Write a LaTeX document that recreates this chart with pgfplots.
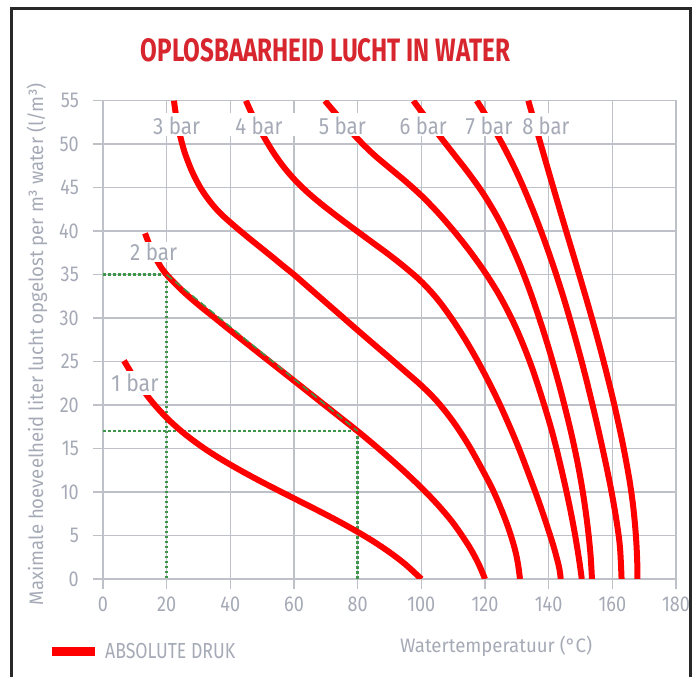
\documentclass[border=0pt]{standalone}
\usepackage{fontspec}
\setmainfont{Fira Sans}
\newfontfamily\tickfont{Fira Sans}[FakeStretch=0.84]
\usepackage{graphicx}
\usepackage{pgfplots}
\pgfplotsset{compat=1.18}
\definecolor{curvered}{RGB}{255,0,0}
\definecolor{titlered}{RGB}{215,38,46}
\definecolor{labelgray}{RGB}{165,170,182}
\definecolor{gridgray}{RGB}{190,193,200}
\definecolor{dotgreen}{RGB}{62,150,72}
\definecolor{framegray}{RGB}{40,40,40}
\newcommand{\fitw}[3]{\resizebox{#1}{\height}{\fontsize{#2}{#2}\selectfont #3}}
\newcommand{\barlbl}[1]{\fitw{47bp}{23.5bp}{#1}}
\pgfplotsset{redcurve/.style={curvered, line width=6bp, smooth, tension=0.55, forget plot}}
\begin{document}
\begin{tikzpicture}
\useasboundingbox (0,0) rectangle (697bp,677bp);
\draw[framegray, line width=3bp] (11.3bp,-2bp) -- (11.3bp,668.5bp) -- (690.7bp,668.5bp) -- (690.7bp,-2bp);
\begin{axis}[
  at={(103bp,98bp)}, anchor=south west,
  scale only axis, width=573bp, height=478.3bp,
  xmin=0, xmax=180, ymin=0, ymax=55,
  xtick={0,20,...,180}, ytick={0,5,...,55},
  grid=major, major grid style={gridgray, line width=1.6bp},
  axis line style={gridgray, line width=1.6bp},
  tick style={gridgray, line width=1.6bp},
  tick align=outside, major tick length=10bp,
  xtick pos=left, ytick pos=left,
  /pgf/number format/assume math mode=true,
  ticklabel style={font=\tickfont\fontsize{21.5bp}{23bp}\selectfont, text=labelgray},
  yticklabel style={anchor=east, inner sep=0pt, xshift=-14bp},
  xticklabel style={anchor=north, inner sep=0pt, yshift=-8bp},
  xlabel={\fitw{192bp}{19.5bp}{Watertemperatuur (°C)}},
  xlabel style={at={(axis description cs:0.686,-0.1547)}, anchor=base, text=labelgray, inner sep=0pt},
  ylabel={\fitw{522bp}{19.5bp}{Maximale hoeveelheid liter lucht opgelost per m³ water (l/m³)}},
  ylabel style={at={(axis description cs:-0.1047,0.4913)}, anchor=base, text=labelgray, inner sep=0pt},
  legend style={at={(axis description cs:-0.0977,-0.1526)}, anchor=west, draw=none, fill=none,
    inner sep=0pt, text=labelgray, nodes={inner sep=0pt}},
  legend image code/.code={\draw[#1] (0bp,0bp) -- (43bp,0bp);},
]
\addlegendimage{curvered, line width=9bp}
\addlegendentry{\hspace*{6bp}\fitw{130bp}{21.8bp}{ABSOLUTE DRUK}}

% guide lines
\addplot[dotgreen, line width=2.5bp, dash pattern=on 2.5bp off 2.5bp, forget plot] coordinates {(0,35) (20,35) (20,0)};
\addplot[dotgreen, line width=2.5bp, dash pattern=on 2.5bp off 2.5bp, forget plot] coordinates {(0,17) (80,17) (80,0)};

% 1 bar
\addplot[redcurve] coordinates {
(6.6,25.1) (8.3,24.05) (10,23.06) (15,20.56) (20,18.53) (25,16.88) (30,15.48) (35,14.25) (40,13.15) (45,12.12) (50,11.14) (55,10.2) (60,9.27) (65,8.35) (70,7.41) (75,6.44) (80,5.41) (85,4.31) (90,3.08) (95,1.68) (100,0)};
% 2 bar
\addplot[redcurve] coordinates {
(13.2,39.75) (15,38.08) (17.5,36.28) (20,35) (25,33.13) (30,31.53) (35,30.06) (40,28.58) (45,27.13) (50,25.68) (55,24.24) (60,22.8) (65,21.35) (70,19.9) (75,18.45) (80,17) (85,15.48) (90,13.9) (95,12.25) (100,10.5) (105,8.6) (110,6.43) (115,3.75) (118,1.72) (120,0)};
% 3 bar
\addplot[redcurve] coordinates {
(22.3,55) (22.65,54) (23.1,53) (23.6,52) (24.2,51) (24.9,50) (25.7,49) (26.7,48) (27.8,47) (29.1,46) (30.6,45) (32.4,44) (34.5,43) (37,42) (40,41) (43.2,40) (46.5,39) (49.9,38) (53.3,37) (56.6,36) (60,35) (65,33.4) (70,31.8) (75,30.2) (80,28.6) (85,27.02) (90,25.45) (95,23.85) (100,22.25) (105,20.4) (110,18.1) (115,15.3) (120,12) (122,10.6) (124,9.0) (126,7.2) (127.5,5.7) (128.8,4.2) (129.8,2.8) (130.5,1.4) (131,0)};
% 4 bar
\addplot[redcurve] coordinates {
(44.9,55) (46.1,54) (47.4,53) (48.8,52) (50.3,51) (51.9,50) (53.6,49) (55.5,48) (57.6,47) (60,46) (62.7,45) (65.7,44) (69,43) (72.5,42) (76.1,41) (79.8,40) (85,38.6) (90,37.25) (95,35.8) (100,34.2) (105,32.2) (110,29.7) (115,26.8) (120,23.5) (125,19.8) (130,15.6) (134,11.8) (137,8.8) (139.5,6.1) (141.5,3.8) (142.7,2.2) (143.4,1.1) (143.8,0)};
% 5 bar
\addplot[redcurve] coordinates {
(69.7,55) (72,54.0) (75,52.72) (80,50.62) (85,48.82) (90,47.27) (95,45.74) (100,44.09) (105,42.21) (110,40.11) (115,37.81) (120,35.26) (125,32.31) (130,28.66) (135,24.06) (140,18.31) (143,14.17) (146,9.37) (148,5.67) (149.5,2.37) (150.4,0)};
% 6 bar
\addplot[redcurve] coordinates {
(97.5,55) (100,53.75) (105,51.3) (110,48.95) (115,46.6) (120,44.0) (125,40.85) (130,36.95) (134,33.23) (138,28.91) (141,25.31) (144,21.35) (147,16.91) (149,13.51) (150.5,10.51) (151.7,7.57) (152.6,4.87) (153.2,2.53) (153.6,0)};
% 7 bar
\addplot[redcurve] coordinates {
(117.4,55) (120,53.47) (125,50.32) (130,46.72) (135,42.47) (140,37.57) (145,31.97) (150,25.52) (154,19.68) (157,14.88) (159.5,10.5) (161.3,6.72) (162.4,3.64) (162.9,0)};
% 8 bar
\addplot[redcurve] coordinates {
(133.6,55) (137,50.65) (141,45.57) (145,40.61) (149,35.73) (153,30.73) (156.5,26.08) (160,21.0) (163,16.05) (165.3,11.56) (166.6,8.18) (167.4,4.98) (167.8,2.2) (167.9,0)};

% dashed guide along 2 bar
\addplot[dotgreen, line width=1.5bp, dash pattern=on 7bp off 4bp, forget plot] coordinates {(20,35) (80,17)};

% label backgrounds
\fill[white] (axis cs:15,50.9) rectangle (axis cs:147.7,53.55);
\fill[white] (axis cs:7.5,36.5) rectangle (axis cs:24.5,38.8);
\fill[white] (axis cs:2.2,21.2) rectangle (axis cs:17.9,23.9);

\node[anchor=base, inner sep=0pt, text=labelgray] at (axis cs:10.05,21.54) {\barlbl{1 bar}};
\node[anchor=base, inner sep=0pt, text=labelgray] at (axis cs:15.9,36.68) {\barlbl{2 bar}};
\node[anchor=base, inner sep=0pt, text=labelgray] at (axis cs:23.1,51.13) {\barlbl{3 bar}};
\node[anchor=base, inner sep=0pt, text=labelgray] at (axis cs:49,51.13) {\barlbl{4 bar}};
\node[anchor=base, inner sep=0pt, text=labelgray] at (axis cs:75.2,51.13) {\barlbl{5 bar}};
\node[anchor=base, inner sep=0pt, text=labelgray] at (axis cs:100.6,51.13) {\barlbl{6 bar}};
\node[anchor=base, inner sep=0pt, text=labelgray] at (axis cs:121.3,51.13) {\barlbl{7 bar}};
\node[anchor=base, inner sep=0pt, text=labelgray] at (axis cs:139.1,51.13) {\barlbl{8 bar}};
\end{axis}
\node[anchor=base, text=titlered, inner sep=0pt] at (325.5bp,615bp) {\resizebox{369bp}{23bp}{\bfseries OPLOSBAARHEID LUCHT IN WATER}};
\end{tikzpicture}
\end{document}
